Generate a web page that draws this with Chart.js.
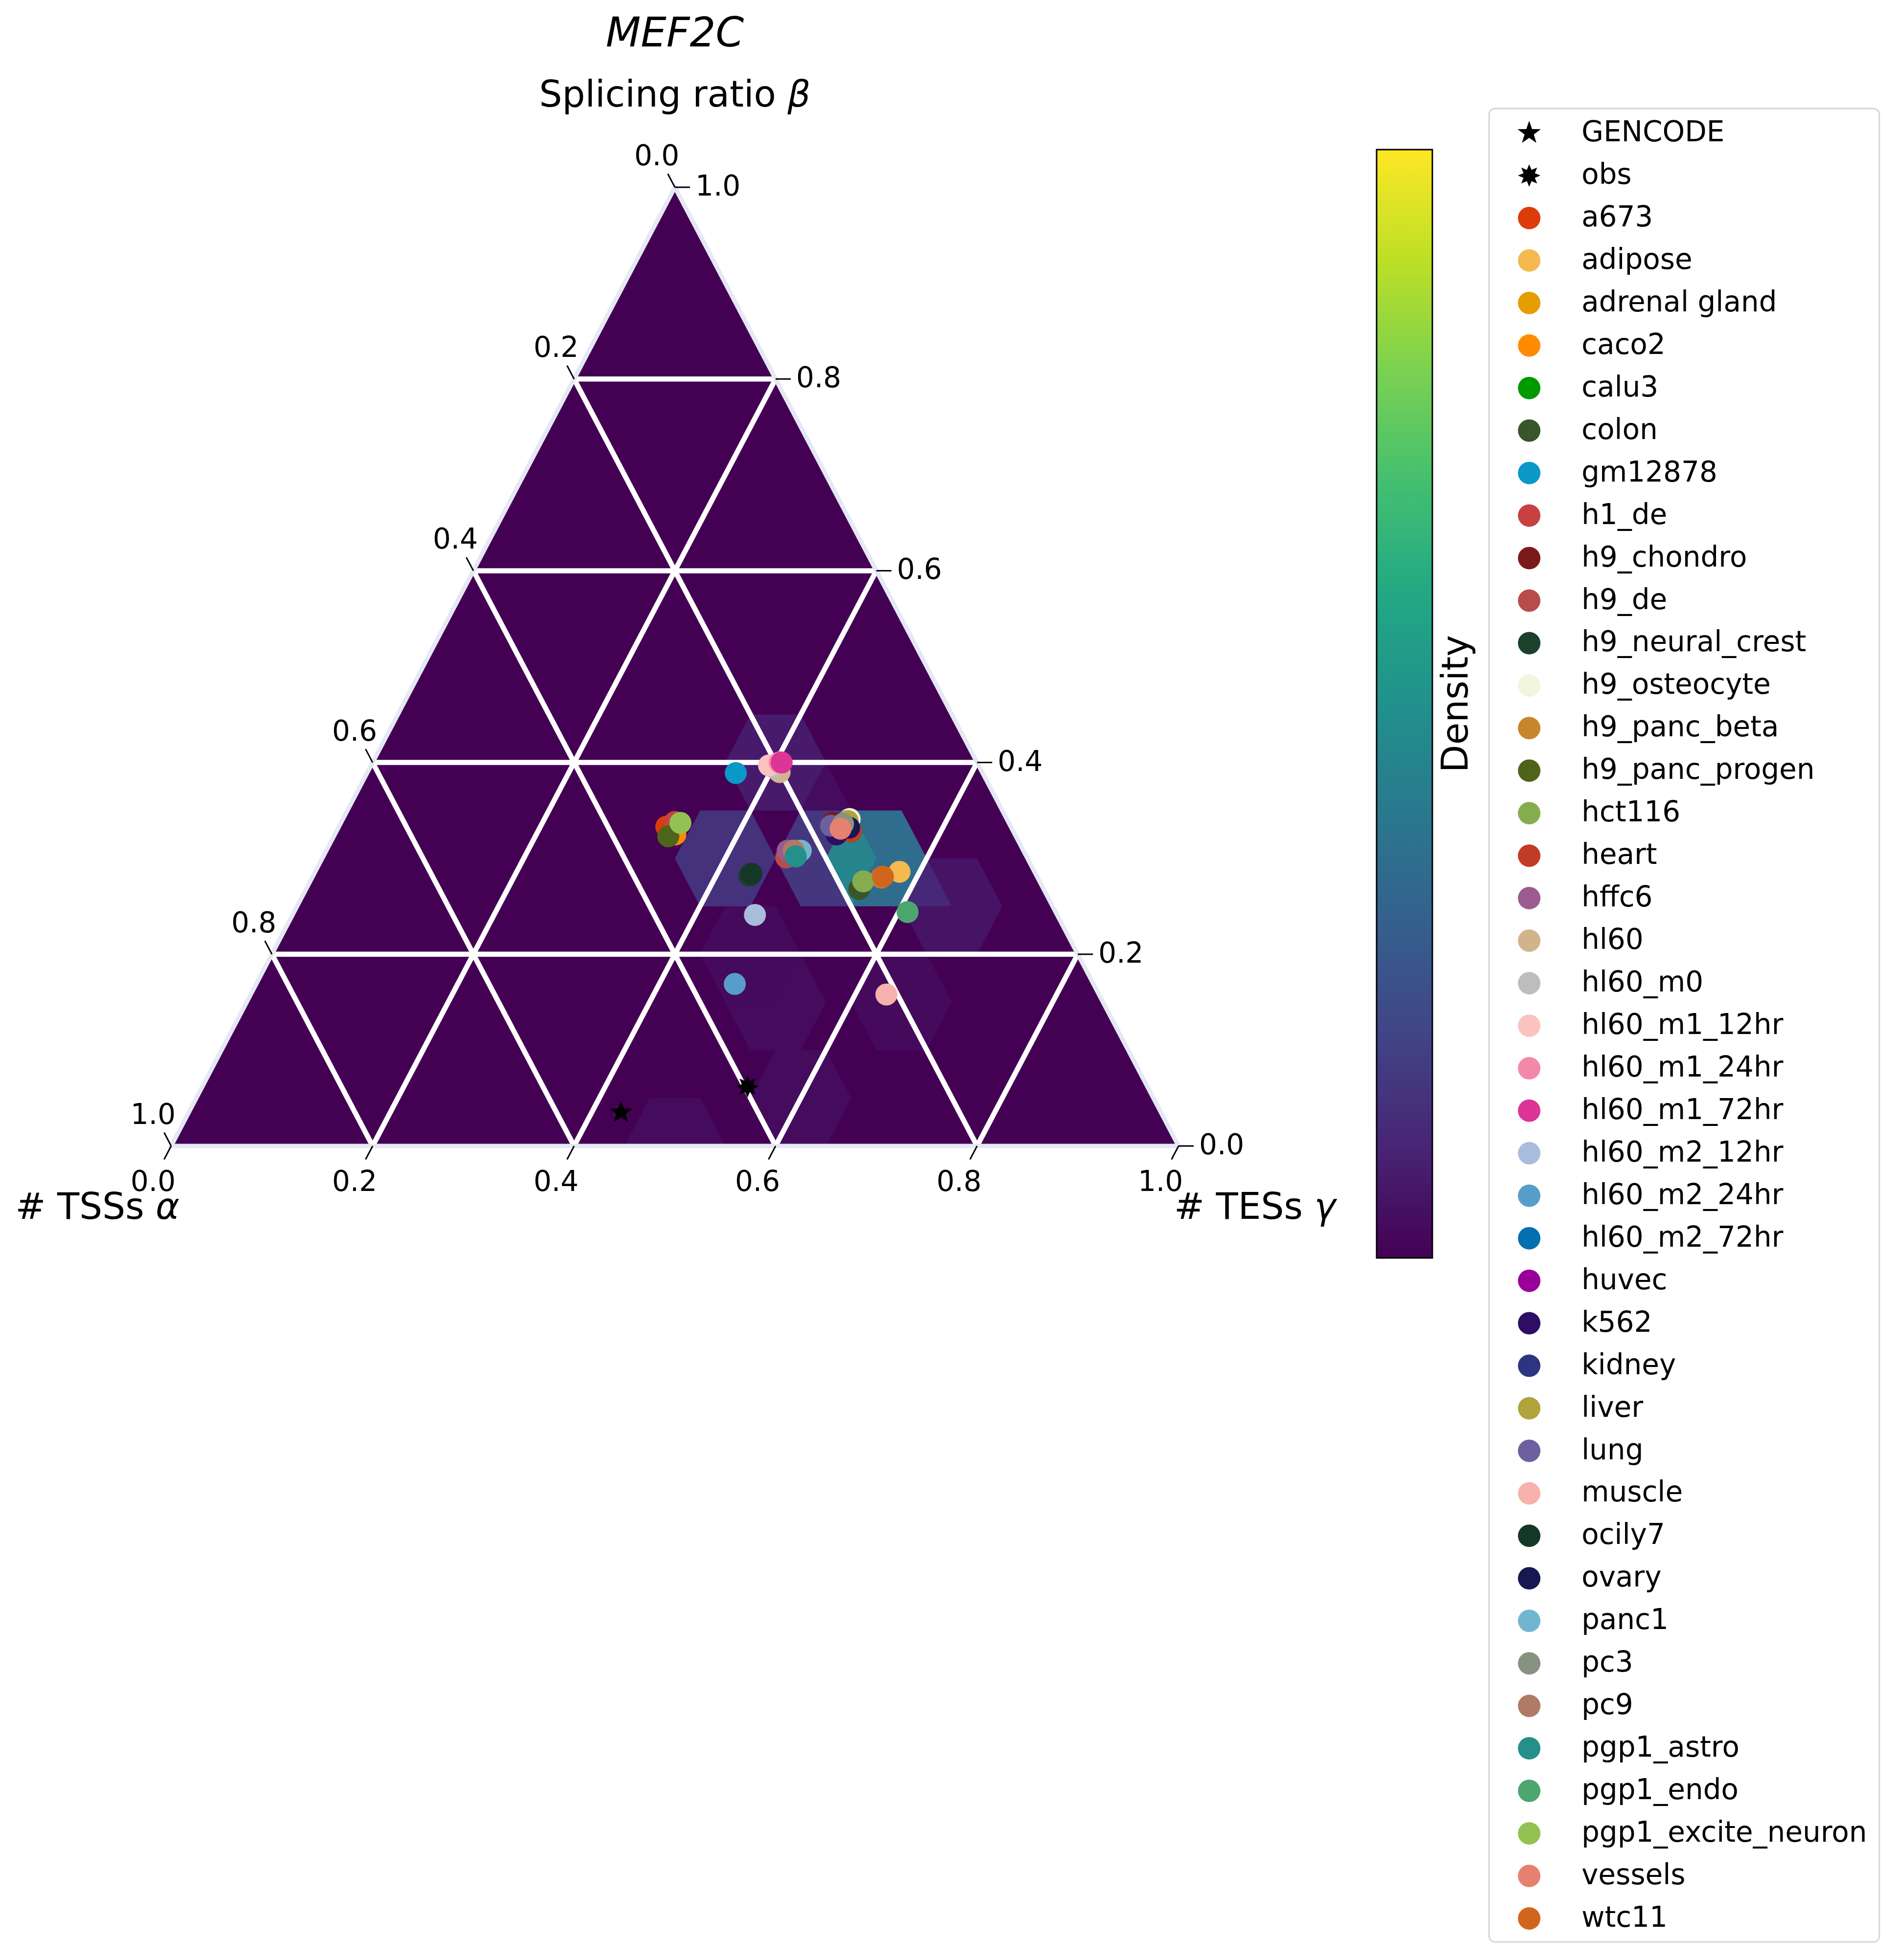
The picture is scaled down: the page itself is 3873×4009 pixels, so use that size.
<!DOCTYPE html>
<html><head><meta charset="utf-8">
<script src="https://cdn.jsdelivr.net/npm/chart.js@4.4.1/dist/chart.umd.min.js"></script>
<style>html,body{margin:0;padding:0;background:#fff;} #c{display:block;}</style>
</head><body>
<canvas id="c" width="3873" height="4009" style="width:3873px;height:4009px"></canvas>
<script>
// ---------------- data ----------------
const chartTitle = 'MEF2C';
const topAxisName = 'Splicing ratio ', topAxisSym = 'β';
const leftAxisName = '# TSSs ', leftAxisSym = 'α';
const rightAxisName = '# TESs ', rightAxisSym = 'γ';
const tickValues = [0, 0.2, 0.4, 0.6, 0.8, 1.0];
const tickLabels = ['0.0', '0.2', '0.4', '0.6', '0.8', '1.0'];
const colorbarLabel = 'Density';

const samples = ['GENCODE','obs','a673','adipose','adrenal gland','caco2','calu3','colon','gm12878','h1_de',
 'h9_chondro','h9_de','h9_neural_crest','h9_osteocyte','h9_panc_beta','h9_panc_progen','hct116','heart','hffc6','hl60',
 'hl60_m0','hl60_m1_12hr','hl60_m1_24hr','hl60_m1_72hr','hl60_m2_12hr','hl60_m2_24hr','hl60_m2_72hr','huvec','k562','kidney',
 'liver','lung','muscle','ocily7','ovary','panc1','pc3','pc9','pgp1_astro','pgp1_endo',
 'pgp1_excite_neuron','vessels','wtc11'];
// ternary coordinates: # TSSs (alpha), splicing ratio (beta), # TESs (gamma)
const tssAlpha = [0.536,0.397,0.342,0.134,0.338,0.337,0.224,0.183,0.245,0.331,
 0.175,0.239,0.285,0.156,0.155,0.345,0.175,0.161,0.234,0.201,
 0.205,0.208,0.196,0.194,0.300,0.356,0.170,0.168,0.177,0.165,
 0.159,0.178,0.211,0.282,0.161,0.221,0.165,0.228,0.229,0.147,
 0.326,0.170,0.153];
const splicingBeta = [0.035,0.062,0.333,0.286,0.326,0.325,0.308,0.268,0.389,0.338,
 0.337,0.301,0.282,0.341,0.280,0.323,0.276,0.328,0.308,0.390,
 0.395,0.397,0.400,0.400,0.241,0.169,0.333,0.335,0.325,0.334,
 0.339,0.334,0.158,0.284,0.332,0.308,0.336,0.308,0.302,0.244,
 0.337,0.331,0.281];
const tesGamma = [0.429,0.541,0.325,0.580,0.336,0.338,0.468,0.549,0.366,0.331,
 0.488,0.460,0.433,0.503,0.565,0.332,0.549,0.511,0.458,0.409,
 0.400,0.395,0.404,0.406,0.459,0.475,0.497,0.497,0.498,0.501,
 0.502,0.488,0.631,0.434,0.507,0.471,0.499,0.464,0.469,0.609,
 0.337,0.499,0.566];
const sampleColors = ['#000000','#000000','#de3b0b','#f4b94f','#e69d00','#ff8c00','#009a00','#38562a','#0a98c9','#c94040',
 '#7a1a1a','#b84c4a','#1b402c','#f1f5dc','#c8862c','#4e6519','#85ad4f','#c23b24','#9b5b8e','#d2b48c',
 '#bdbdbd','#fbc3bf','#f488a9','#dd3497','#a7bddb','#579dc9','#0570b0','#990099','#2d0e64','#2e3580',
 '#b0a43a','#6e5fa0','#f6b3ae','#153727','#171751','#72b5d1','#879380','#b07a67','#258f89','#4da66d',
 '#93c152','#e68071','#d0661e'];
const markerKinds = ['star5','star8'];  // the remaining samples are circles

// density: hexagonal bins (centre in ternary beta / gamma) and triangular bins
const hexBinBeta    = [0.00,0.05,0.15,0.20,0.15,0.25,0.40,0.30,0.30,0.30];
const hexBinGamma   = [0.50,0.60,0.525,0.475,0.65,0.65,0.40,0.40,0.50,0.55];
const hexBinDensity = [0.03,0.03,0.03,0.025,0.025,0.05,0.07,0.14,0.16,0.35];
// triangular bins: base-left corner (beta, gamma), +1 = pointing up, -1 = pointing down
const triBinBeta    = [0.30,0.30,0.25,0.35];
const triBinGamma   = [0.50,0.50,0.60,0.45];
const triBinDir     = [1,-1,1,1];
const triBinDensity = [0.45,0.45,0.11,0.03];

// ---------------- helpers ----------------
const VIR = ['#440154','#482475','#414487','#355f8d','#2a788e','#21918c','#22a884','#44bf70','#7ad151','#bddf26','#fde725'];
function hex2rgb(h){return [parseInt(h.substr(1,2),16),parseInt(h.substr(3,2),16),parseInt(h.substr(5,2),16)];}
function viridis(v){
  v = Math.max(0, Math.min(1, v)); const p = v * 10; const i = Math.min(9, Math.floor(p)); const f = p - i;
  const a = hex2rgb(VIR[i]), b = hex2rgb(VIR[i+1]);
  return 'rgb(' + a.map((c,k)=>Math.round(c + (b[k]-c)*f)).join(',') + ')';
}
function starCanvas(points, rOut, rIn){
  const s = Math.ceil(rOut*2+4); const cv = document.createElement('canvas'); cv.width = s; cv.height = s;
  const g = cv.getContext('2d'); g.translate(s/2, s/2); g.beginPath();
  for (let k=0;k<points*2;k++){ const r = k%2===0 ? rOut : rIn; const a = -Math.PI/2 + k*Math.PI/points;
    const px = r*Math.cos(a), py = r*Math.sin(a); if(k===0) g.moveTo(px,py); else g.lineTo(px,py); }
  g.closePath(); g.fillStyle = '#000'; g.fill(); return cv;
}
const star5 = starCanvas(5, 25, 10);
const star8 = starCanvas(8, 23, 12.5);
function styleFor(i){ if (i < markerKinds.length) return markerKinds[i]==='star5' ? star5 : star8; return 'circle'; }

const FONT = '"DejaVu Sans", sans-serif';
const N = samples.length;
const datasets = samples.map((name, i) => ({
  label: name,
  data: [{x: tesGamma[i] + splicingBeta[i]/2, y: splicingBeta[i]}],
  backgroundColor: sampleColors[i], borderColor: sampleColors[i], borderWidth: 0,
  pointStyle: styleFor(i), pointRadius: 22.5, pointHoverRadius: 22.5,
  order: N - i, clip: false
}));

function drawMixed(ctx, normal, sym, x, y, size, align){
  ctx.font = size + 'px ' + FONT; const w1 = ctx.measureText(normal).width;
  ctx.font = 'italic ' + size + 'px ' + FONT; const w2 = ctx.measureText(sym).width;
  let x0 = x; if (align === 'center') x0 = x - (w1+w2)/2; else if (align === 'right') x0 = x - (w1+w2);
  ctx.textAlign = 'left';
  ctx.font = size + 'px ' + FONT; ctx.fillText(normal, x0, y);
  ctx.font = 'italic ' + size + 'px ' + FONT; ctx.fillText(sym, x0 + w1, y);
}

const ternaryPlugin = {
  id: 'ternary',
  beforeDatasetsDraw(chart){
    const ctx = chart.ctx, xs = chart.scales.x, ys = chart.scales.y;
    const P = (xn, yn) => [xs.getPixelForValue(xn), ys.getPixelForValue(yn)];
    const poly = (vs, color) => { ctx.beginPath(); vs.forEach((v,k)=>{const p=P(v[0],v[1]); if(k===0) ctx.moveTo(...p); else ctx.lineTo(...p);}); ctx.closePath(); ctx.fillStyle = color; ctx.fill(); };
    const T = [P(0.5,1), P(0,0), P(1,0)];
    ctx.save();
    ctx.beginPath(); ctx.moveTo(...T[0]); ctx.lineTo(...T[1]); ctx.lineTo(...T[2]); ctx.closePath();
    ctx.fillStyle = viridis(0); ctx.fill();
    ctx.save(); ctx.clip();
    const h = 0.05;
    for (let b=0;b<hexBinDensity.length;b++){
      const cy = hexBinBeta[b], cx = hexBinGamma[b] + hexBinBeta[b]/2;
      poly([[cx-h,cy],[cx-h/2,cy+h],[cx+h/2,cy+h],[cx+h,cy],[cx+h/2,cy-h],[cx-h/2,cy-h]], viridis(hexBinDensity[b]));
    }
    for (let b=0;b<triBinDensity.length;b++){
      const y0 = triBinBeta[b], x0 = triBinGamma[b] + triBinBeta[b]/2;
      poly([[x0,y0],[x0+h,y0],[x0+h/2,y0+triBinDir[b]*h]], viridis(triBinDensity[b]));
    }
    // grid
    ctx.strokeStyle = '#ffffff'; ctx.lineWidth = 10.5; ctx.lineCap = 'butt';
    for (const v of tickValues){
      if (v <= 0 || v >= 1) continue;
      const lines = [[P(v/2, v), P(1 - v/2, v)], [P(1 - v, 0), P((1 - v)/2, 1 - v)], [P(v, 0), P(v + (1 - v)/2, 1 - v)]];
      for (const [a,b] of lines){ ctx.beginPath(); ctx.moveTo(...a); ctx.lineTo(...b); ctx.stroke(); }
    }
    ctx.restore();
    // outline
    ctx.beginPath(); ctx.moveTo(...T[0]); ctx.lineTo(...T[1]); ctx.lineTo(...T[2]); ctx.closePath();
    ctx.strokeStyle = '#e4e9f4'; ctx.lineWidth = 9; ctx.lineJoin = 'miter'; ctx.stroke();
    // ticks & labels
    const L = 31; const dL = [-0.465, -0.885], dB = [-0.465, 0.885];
    ctx.strokeStyle = '#000'; ctx.lineWidth = 3; ctx.fillStyle = '#000';
    ctx.font = '58px ' + FONT; ctx.textBaseline = 'middle';
    tickValues.forEach((v, k) => {
      let p = P((1 - v)/2, 1 - v);
      ctx.beginPath(); ctx.moveTo(...p); ctx.lineTo(p[0] + dL[0]*L, p[1] + dL[1]*L); ctx.stroke();
      ctx.textAlign = 'center'; ctx.fillText(tickLabels[k], p[0] - 37, p[1] - 60);
      p = P(1 - v/2, v);
      ctx.beginPath(); ctx.moveTo(...p); ctx.lineTo(p[0] + L, p[1]); ctx.stroke();
      ctx.textAlign = 'left'; ctx.fillText(tickLabels[k], p[0] + 42, p[1] + 2);
      p = P(v, 0);
      ctx.beginPath(); ctx.moveTo(...p); ctx.lineTo(p[0] + dB[0]*L, p[1] + dB[1]*L); ctx.stroke();
      ctx.textAlign = 'center'; ctx.fillText(tickLabels[k], p[0] - 37, p[1] + 77);
    });
    ctx.restore();
  },
  afterDraw(chart){
    const ctx = chart.ctx; const ca = chart.chartArea;
    ctx.save(); ctx.fillStyle = '#000'; ctx.textBaseline = 'alphabetic';
    ctx.font = 'italic 83px ' + FONT; ctx.textAlign = 'center';
    ctx.fillText(chartTitle, (ca.left + ca.right)/2, 95);
    drawMixed(ctx, topAxisName, topAxisSym, (ca.left + ca.right)/2, 218, 74, 'center');
    drawMixed(ctx, leftAxisName, leftAxisSym, ca.left + 17, 2493, 74, 'right');
    drawMixed(ctx, rightAxisName, rightAxisSym, ca.right - 9, 2493, 74, 'left');
    // colorbar
    const cb = {l: 2815, r: 2929, t: 306, b: 2573};
    const g = ctx.createLinearGradient(0, cb.b, 0, cb.t);
    VIR.forEach((c, k) => g.addColorStop(k/10, c));
    ctx.fillStyle = g; ctx.fillRect(cb.l, cb.t, cb.r - cb.l, cb.b - cb.t);
    ctx.strokeStyle = '#000'; ctx.lineWidth = 3; ctx.strokeRect(cb.l, cb.t, cb.r - cb.l, cb.b - cb.t);
    ctx.save(); ctx.translate(2982, (cb.t + cb.b)/2); ctx.rotate(-Math.PI/2);
    ctx.fillStyle = '#000'; ctx.font = '74px ' + FONT; ctx.textAlign = 'center'; ctx.textBaseline = 'middle';
    ctx.fillText(colorbarLabel, 0, 0); ctx.restore();
    // legend
    const lg = {l: 3045, r: 3843, t: 222, b: 3972};
    ctx.beginPath(); ctx.roundRect(lg.l, lg.t, lg.r - lg.l, lg.b - lg.t, 12);
    ctx.fillStyle = 'rgba(255,255,255,0.8)'; ctx.fill();
    ctx.strokeStyle = '#d6d6d6'; ctx.lineWidth = 3; ctx.stroke();
    ctx.font = '58px ' + FONT; ctx.textAlign = 'left'; ctx.textBaseline = 'middle';
    samples.forEach((name, i) => {
      const y = 272 + i * 86.95;
      const st = styleFor(i);
      if (st === 'circle'){
        ctx.beginPath(); ctx.arc(3127, y, 23, 0, Math.PI*2); ctx.fillStyle = sampleColors[i]; ctx.fill();
      } else {
        ctx.drawImage(st, 3127 - st.width/2, y - st.height/2);
      }
      ctx.fillStyle = '#000'; ctx.fillText(name, 3234, y + 2);
    });
    ctx.restore();
  }
};

new Chart(document.getElementById('c'), {
  type: 'scatter',
  data: {datasets},
  options: {
    responsive: false, devicePixelRatio: 1, animation: false, events: [],
    layout: {padding: {left: 350, right: 3873 - 2410, top: 383, bottom: 4009 - 2344}},
    scales: {
      x: {type: 'linear', min: 0, max: 1, display: false},
      y: {type: 'linear', min: 0, max: 1, display: false}
    },
    plugins: {legend: {display: false}, tooltip: {enabled: false}}
  },
  plugins: [ternaryPlugin]
});
</script>
</body></html>
